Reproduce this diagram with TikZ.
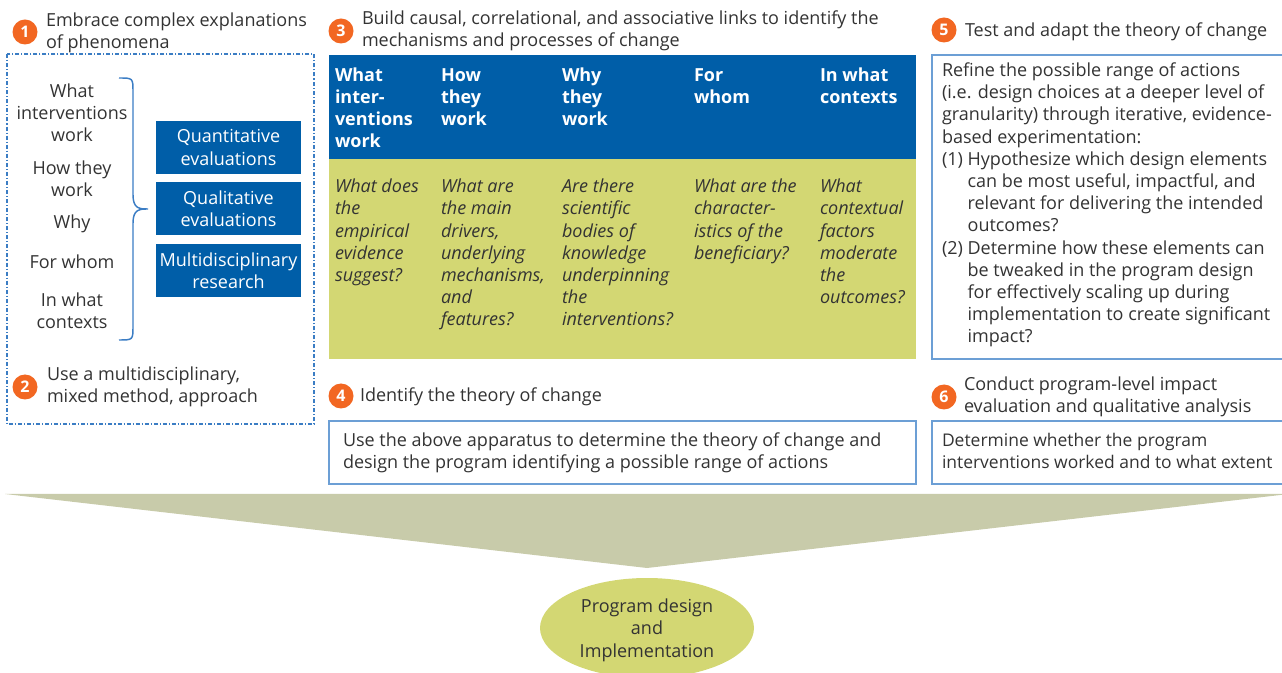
\documentclass[tikz,border=0pt]{standalone}
\usepackage{fontspec}
\setmainfont{Open Sans}
\usetikzlibrary{shapes.geometric}
\definecolor{wbblue}{HTML}{005EA8}
\definecolor{wbgreen}{HTML}{D3D773}
\definecolor{wbarrow}{HTML}{C8CBAA}
\definecolor{wborange}{HTML}{F26722}
\definecolor{wbtext}{HTML}{333333}
\definecolor{wbframe}{HTML}{6C9FD5}
\definecolor{wbdash}{HTML}{3B7DC4}
\begin{document}
\begin{tikzpicture}[x=0.75pt,y=-0.75pt,
  every node/.style={inner sep=0pt,outer sep=0pt,text=wbtext},
  fnt/.style={font=\fontsize{13.5}{16.65}\selectfont},
  txt/.style={fnt,align=left,anchor=base west},
  ctxt/.style={fnt,align=center,anchor=base},
  hdr/.style={txt,text=white,font=\fontsize{13.5}{16.65}\selectfont\bfseries},
  bdy/.style={txt,font=\fontsize{13.5}{16.65}\selectfont\itshape},
  num/.style={circle,fill=wborange,minimum size=18.75pt,text=white,font=\fontsize{12}{12}\selectfont\bfseries},
  bluebox/.style={fill=wbblue,text=white,fnt,align=center,minimum width=108.75pt,minimum height=39.75pt},
  frame/.style={draw=wbframe,line width=1.4pt},
  dashbox/.style={draw=wbdash,line width=1.1pt,dash pattern=on 3pt off 1.5pt on 0.8pt off 1.5pt},
]
\useasboundingbox (0,0) rectangle (1282,673);
\clip (0,0) rectangle (1282,673);

% (text nodes are anchored at the baseline of their LAST line)

% ---------- panel 1/2 ----------
\draw[dashbox] (7,54) rectangle (314,424);
\node[num] (n1) at (25,32) {1};
\node[txt] (t1) at (46,49) {Embrace complex explanations\\of phenomena};
\node[num] (n2) at (25,387) {2};
\node[txt] (t2) at (47,403) {Use a multidisciplinary,\\mixed method, approach};

\node[ctxt] (q1) at (72,142) {What\\interventions\\work};
\node[ctxt] (q2) at (72,197) {How they\\work};
\node[ctxt] (q3) at (72,229) {Why};
\node[ctxt] (q4) at (72,269) {For whom};
\node[ctxt] (q5) at (72,328.5) {In what\\contexts};

\draw[wbdash,line width=1.1pt] (119,78) .. controls (133,78) .. (133,92) -- (133,195)
  .. controls (133,209) and (140,209) .. (148,209)
  .. controls (140,209) and (133,209) .. (133,223) -- (133,326)
  .. controls (133,340) .. (119,340);

\node[bluebox] (m1) at (228.5,147.5) {Quantitative\\evaluations};
\node[bluebox] (m2) at (228.5,208.5) {Qualitative\\evaluations};
\node[bluebox] (m3) at (228.5,270.5) {Multidisciplinary\\research};

% ---------- panel 3 ----------
\node[num] (n3) at (341,31) {3};
\node[txt] (t3) at (362,47) {Build causal, correlational, and associative links to identify the\\mechanisms and processes of change};
\fill[wbblue] (329,55) rectangle (916,159);
\fill[wbgreen] (329,159) rectangle (916,359);
\node[hdr] (h1) at (335,148) {What\\inter-\\ventions\\work};
\node[hdr] (h2) at (441,125.8) {How\\they\\work};
\node[hdr] (h3) at (562,125.8) {Why\\they\\work};
\node[hdr] (h4) at (694,103.6) {For\\whom};
\node[hdr] (h5) at (820,103.6) {In what\\contexts};
\node[bdy] (b1) at (335,281.5) {What does\\the\\empirical\\evidence\\suggest?};
\node[bdy] (b2) at (441,326) {What are\\the main\\drivers,\\underlying\\mechanisms,\\and\\features?};
\node[bdy] (b3) at (562,326) {Are there\\scientific\\bodies of\\knowledge\\underpinning\\the\\interventions?};
\node[bdy] (b4) at (694,259.3) {What are the\\character-\\istics of the\\beneficiary?};
\node[bdy] (b5) at (820,303.7) {What\\contextual\\factors\\moderate\\the\\outcomes?};

% ---------- panel 4 ----------
\node[num] (n4) at (341,396) {4};
\node[txt] (t4) at (360,402) {Identify the theory of change};
\draw[frame] (329,421) rectangle (916,484);
\node[txt] (d4) at (343,469) {Use the above apparatus to determine the theory of change and\\design the program identifying a possible range of actions};

% ---------- panel 5 ----------
\node[num] (n5) at (944,30) {5};
\node[txt] (t5) at (965,37) {Test and adapt the theory of change};
\draw[frame] (932,55) rectangle (1295,359);
\node[txt] (d5) at (942,343) {Refine the possible range of actions\\(i.e. design choices at a deeper level of\\granularity) through iterative, evidence-\\based experimentation:\\(1) Hypothesize which design elements\\\hphantom{(1)~}can be most useful, impactful, and\\\hphantom{(1)~}relevant for delivering the intended\\\hphantom{(1)~}outcomes?\\(2) Determine how these elements can\\\hphantom{(1)~}be tweaked in the program design\\\hphantom{(1)~}for effectively scaling up during\\\hphantom{(1)~}implementation to create significant\\\hphantom{(1)~}impact?};

% ---------- panel 6 ----------
\node[num] (n6) at (944,397) {6};
\node[txt] (t6) at (964,413) {Conduct program-level impact\\evaluation and qualitative analysis};
\draw[frame] (932,421) rectangle (1295,484);
\node[txt,font=\fontsize{13.1}{16.65}\selectfont] (d6) at (942,469) {Determine whether the program\\interventions worked and to what extent};

% ---------- funnel and result ----------
\fill[wbarrow] (5,494) -- (1289,494) -- (647,568) -- cycle;
\node[ellipse,fill=wbgreen,minimum width=160.5pt,minimum height=75pt] (res) at (647,628) {};
\node[ctxt] (rest) at (647,657) {Program design\\and\\Implementation};
\end{tikzpicture}
\end{document}
